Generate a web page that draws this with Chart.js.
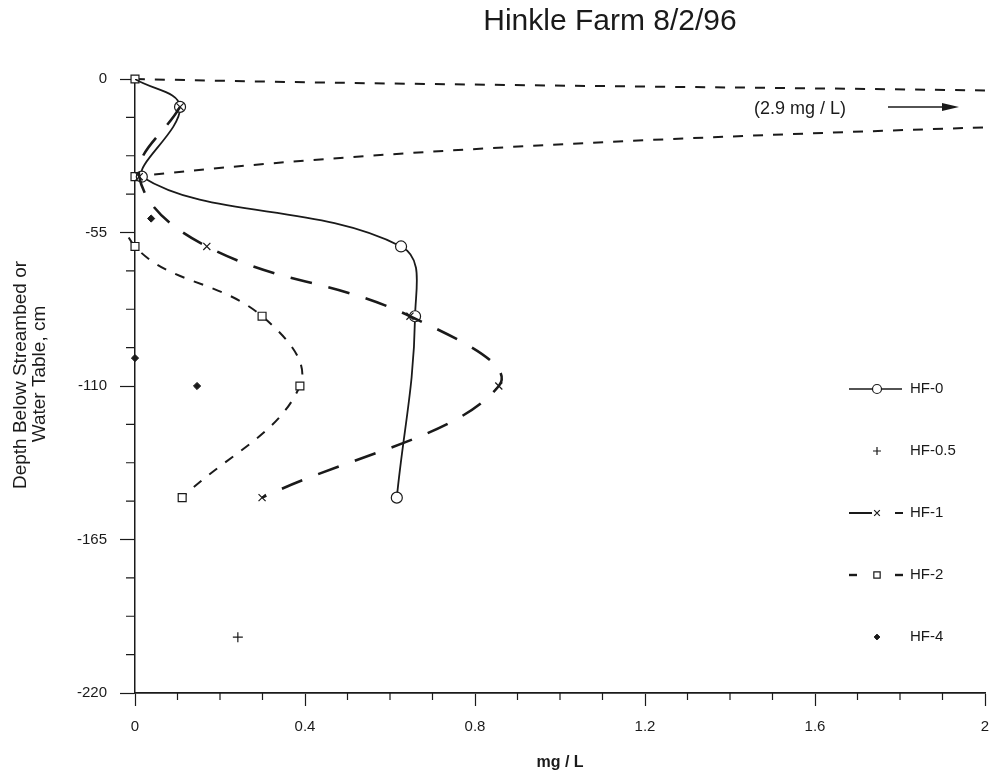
<!DOCTYPE html>
<html>
<head>
<meta charset="utf-8">
<script src="https://cdn.jsdelivr.net/npm/chart.js@4.4.1/dist/chart.umd.min.js"></script>
<style>
  html, body { margin: 0; padding: 0; background: #fff; }
  #wrap { width: 992px; height: 777px; }
</style>
</head>
<body>
<div id="wrap"><canvas id="profileChart" width="992" height="777"></canvas></div>
<script>
// depth in cm (negative = below streambed / water table), concentration in mg/L
const hf0Depth = [0, -10, -35, -60, -85, -150];
const hf0Conc  = [0, 0.106, 0.016, 0.626, 0.659, 0.616];

const hf05Depth = [-200];
const hf05Conc  = [0.242];

const hf1Depth = [-10, -35, -60, -85, -110, -150];
const hf1Conc  = [0.106, 0.01, 0.169, 0.647, 0.856, 0.299];

// the -10 cm sample of HF-2 is off scale (2.9 mg/L)
const hf2Depth = [0, -10, -35, -60, -85, -110, -150];
const hf2Conc  = [0, 2.9, 0, 0, 0.299, 0.388, 0.111];

const hf4Depth = [-50, -100, -110];
const hf4Conc  = [0.038, 0, 0.146];

const xTicks = [0, 0.4, 0.8, 1.2, 1.6, 2];
const yTicks = [0, -55, -110, -165, -220];

const seriesLabels = ['HF-0', 'HF-0.5', 'HF-1', 'HF-2', 'HF-4'];

const INK = '#1a1a1a';
const FONT = 'Arial, "Liberation Sans", sans-serif';

function toPoints(conc, depth) {
  return conc.map((c, i) => ({ x: c, y: depth[i] }));
}

const datasets = [
  {
    label: seriesLabels[0],
    data: toPoints(hf0Conc, hf0Depth),
    showLine: true,
    tension: 0.4,
    borderColor: INK,
    borderWidth: 1.8,
    pointStyle: 'circle',
    pointRadius: hf0Depth.map((d, i) => i === 0 ? 0 : 5.5),
    pointBackgroundColor: '#fff',
    pointBorderColor: INK,
    pointBorderWidth: 1.2
  },
  {
    label: seriesLabels[1],
    data: toPoints(hf05Conc, hf05Depth),
    showLine: false,
    pointStyle: 'cross',
    pointRadius: 5,
    pointBorderColor: INK,
    pointBorderWidth: 1.2
  },
  {
    label: seriesLabels[2],
    data: toPoints(hf1Conc, hf1Depth),
    order: -1,
    showLine: true,
    tension: 0.4,
    borderColor: INK,
    borderWidth: 2.6,
    borderDash: [22, 17],
    pointStyle: 'crossRot',
    pointRadius: 5,
    pointBorderColor: INK,
    pointBorderWidth: 1.2
  },
  {
    label: seriesLabels[3],
    data: toPoints(hf2Conc, hf2Depth),
    showLine: true,
    tension: 0.4,
    capBezierPoints: false,
    clip: { left: 8, top: 8, right: 0, bottom: 8 },
    borderColor: INK,
    borderWidth: 2,
    borderDash: [10, 10],
    pointStyle: 'rect',
    pointRadius: 5.6,
    pointBackgroundColor: '#fff',
    pointBorderColor: INK,
    pointBorderWidth: 1.2
  },
  {
    label: seriesLabels[4],
    data: toPoints(hf4Conc, hf4Depth),
    showLine: false,
    clip: 10,
    pointStyle: 'rectRot',
    pointRadius: 3.6,
    pointBackgroundColor: INK,
    pointBorderColor: INK,
    pointBorderWidth: 1
  }
];

// legend line pieces per row (x from, x to)
const legendSamples = [
  { pieces: [[849, 902]], width: 1.6 },
  { pieces: [], width: 0 },
  { pieces: [[849, 872], [895, 903]], width: 2 },
  { pieces: [[849, 857], [895, 903]], width: 2.4 },
  { pieces: [], width: 0 }
];

const decorations = {
  id: 'decorations',
  afterDraw(chart) {
    const { ctx, chartArea } = chart;
    const xs = chart.scales.x;
    const ys = chart.scales.y;
    ctx.save();

    // minor tick marks
    ctx.strokeStyle = INK;
    ctx.lineWidth = 1.2;
    ctx.beginPath();
    for (let i = 1; i < 20; i++) {
      if (i % 4 === 0) continue;
      const px = xs.getPixelForValue(i / 10);
      ctx.moveTo(px, chartArea.bottom);
      ctx.lineTo(px, chartArea.bottom + 7);
    }
    for (let i = 1; i < 16; i++) {
      if (i % 4 === 0) continue;
      const py = ys.getPixelForValue(-13.75 * i);
      ctx.moveTo(chartArea.left - 9, py);
      ctx.lineTo(chartArea.left, py);
    }
    ctx.stroke();

    // chart title
    ctx.fillStyle = INK;
    ctx.font = '30px ' + FONT;
    ctx.textAlign = 'center';
    ctx.textBaseline = 'middle';
    ctx.fillText('Hinkle Farm 8/2/96', 610, 22);

    // y axis title, two lines
    ctx.font = '19px ' + FONT;
    ctx.save();
    ctx.translate(21, 375);
    ctx.rotate(-Math.PI / 2);
    ctx.fillText('Depth Below Streambed or', 0, 0);
    ctx.fillText('Water Table, cm', 1, 19);
    ctx.restore();

    // off-scale note for HF-2
    ctx.font = '18px ' + FONT;
    ctx.fillText('(2.9 mg / L)', 800, 109);
    ctx.lineWidth = 1.6;
    ctx.beginPath();
    ctx.moveTo(888, 107);
    ctx.lineTo(944, 107);
    ctx.stroke();
    ctx.beginPath();
    ctx.moveTo(942, 103);
    ctx.lineTo(959, 107);
    ctx.lineTo(942, 111);
    ctx.closePath();
    ctx.fill();

    // legend
    ctx.font = '15px ' + FONT;
    ctx.textAlign = 'left';
    chart.data.datasets.forEach((ds, i) => {
      const rowY = 389 + i * 62;
      const sample = legendSamples[i];
      ctx.lineWidth = sample.width;
      ctx.setLineDash([]);
      sample.pieces.forEach(p => {
        ctx.beginPath();
        ctx.moveTo(p[0], rowY);
        ctx.lineTo(p[1], rowY);
        ctx.stroke();
      });
      ctx.fillStyle = ds.pointBackgroundColor || INK;
      ctx.strokeStyle = INK;
      ctx.lineWidth = ds.pointBorderWidth || 1;
      const r = Array.isArray(ds.pointRadius) ? ds.pointRadius[1] : ds.pointRadius;
      Chart.helpers.drawPoint(ctx, {
        pointStyle: ds.pointStyle,
        radius: ds.pointStyle === 'circle' ? 4.5 : r * 0.8,
        rotation: 0,
        borderWidth: ds.pointBorderWidth || 1
      }, 877, rowY);
      ctx.fillStyle = INK;
      ctx.fillText(ds.label, 910, rowY);
    });

    ctx.restore();
  }
};

new Chart(document.getElementById('profileChart'), {
  type: 'scatter',
  data: { datasets: datasets },
  options: {
    responsive: false,
    animation: false,
    events: [],
    layout: { padding: { left: 0, right: 7, top: 79, bottom: 0 } },
    plugins: {
      legend: { display: false },
      title: { display: false },
      tooltip: { enabled: false }
    },
    scales: {
      x: {
        type: 'linear',
        position: 'bottom',
        min: 0,
        max: 2,
        afterBuildTicks: s => { s.ticks = xTicks.map(v => ({ value: v })); },
        afterFit: s => { s.height = 84; s.paddingLeft = 0; s.paddingRight = 0; },
        grid: { drawOnChartArea: false, drawTicks: true, tickLength: 13, tickColor: INK, tickWidth: 1.2 },
        border: { display: true, color: INK, width: 1.8 },
        ticks: {
          color: INK,
          padding: 12,
          maxRotation: 0,
          autoSkip: false,
          callback: v => String(v),
          font: { family: FONT, size: 15 }
        },
        title: {
          display: true,
          text: 'mg / L',
          color: INK,
          padding: { top: 0, bottom: 5 },
          font: { family: FONT, size: 16, weight: 'bold' }
        }
      },
      y: {
        type: 'linear',
        min: -220,
        max: 0,
        afterBuildTicks: s => { s.ticks = yTicks.map(v => ({ value: v })); },
        afterFit: s => { s.width = 135; s.paddingTop = 0; s.paddingBottom = 0; },
        grid: { drawOnChartArea: false, drawTicks: true, tickLength: 15, tickColor: INK, tickWidth: 1.2 },
        border: { display: true, color: INK, width: 1.5 },
        ticks: {
          color: INK,
          padding: 13,
          autoSkip: false,
          font: { family: FONT, size: 15 }
        }
      }
    }
  },
  plugins: [decorations]
});
</script>
</body>
</html>
